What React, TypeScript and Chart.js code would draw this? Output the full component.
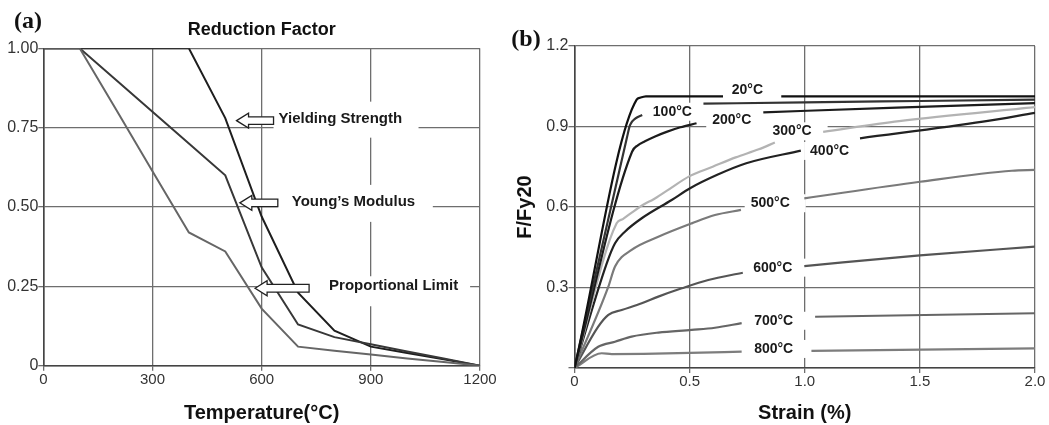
import React, { useEffect, useRef } from "react";
import { Chart, registerables } from "chart.js";

Chart.register(...registerables);

const FONT = '"Liberation Sans", Arial, Helvetica, sans-serif';
const SERIF = '"Liberation Serif", "DejaVu Serif", "Times New Roman", serif';

// ---------- Panel (a): reduction factors ----------
const temperatures = [0, 100, 200, 300, 400, 500, 600, 700, 800, 900, 1000, 1100, 1200];
const yieldingStrength = [1, 1, 1, 1, 1, 0.78, 0.47, 0.23, 0.11, 0.06, 0.04, 0.02, 0];
const youngsModulus = [1, 1, 0.9, 0.8, 0.7, 0.6, 0.31, 0.13, 0.09, 0.0675, 0.045, 0.0225, 0];
const proportionalLimit = [1, 1, 0.807, 0.613, 0.42, 0.36, 0.18, 0.06, 0.047, 0.035, 0.023, 0.012, 0];
const temperatureTicks = ["0", "300", "600", "900", "1200"];
const factorTicks = ["0", "0.25", "0.50", "0.75", "1.00"];
const annotationTexts = ["Yielding Strength", "Young\u2019s Modulus", "Proportional Limit"];
const annotationTemps = [531, 540, 582];
const annotationFactors = [0.772, 0.513, 0.244];

// ---------- Panel (b): stress-strain curves ----------
const strain20 = [0, 0.27, 0.285, 0.3, 0.31, 0.645, 0.77, 0.898, 2.0];
const ratio20 = [0, 1.0, 1.007, 1.011, 1.012, 1.012, null, 1.012, 1.012];
const strain100 = [0, 0.227, 0.241, 0.265, 0.294, 0.43, 0.56, 1.0, 1.5, 2.0];
const ratio100 = [0, 0.856, 0.905, 0.93, 0.943, null, 0.985, 0.99, 0.995, 1.0];
const strain200 = [0, 0.25, 0.275, 0.306, 0.35, 0.4, 0.46, 0.53, 0.68, 0.82, 1.4, 2.0];
const ratio200 = [0, 0.806, 0.83, 0.845, 0.863, 0.88, 0.897, 0.912, null, 0.953, 0.97, 0.987];
const strain300 = [0, 0.183, 0.21, 0.25, 0.306, 0.342, 0.4, 0.5, 0.6, 0.7, 0.8, 0.87, 0.97, 1.08, 1.41, 2.0];
const ratio300 = [0, 0.539, 0.555, 0.58, 0.612, 0.628, 0.66, 0.715, 0.75, 0.785, 0.815, 0.84, null, 0.88, 0.92, 0.972];
const strain400 = [0, 0.14, 0.176, 0.219, 0.292, 0.422, 0.502, 0.62, 0.746, 0.983, 1.1, 1.24, 1.774, 2.0];
const ratio400 = [0, 0.39, 0.465, 0.508, 0.558, 0.626, 0.67, 0.72, 0.763, 0.81, null, 0.856, 0.918, 0.951];
const strain500 = [0, 0.147, 0.176, 0.248, 0.364, 0.509, 0.61, 0.723, 0.86, 0.998, 1.5, 1.9, 2.0];
const ratio500 = [0, 0.303, 0.378, 0.44, 0.489, 0.539, 0.57, 0.589, null, 0.632, 0.694, 0.735, 0.738];
const strain600 = [0, 0.103, 0.147, 0.205, 0.292, 0.364, 0.466, 0.581, 0.731, 0.86, 0.998, 1.5, 2.0];
const ratio600 = [0, 0.154, 0.198, 0.216, 0.241, 0.266, 0.297, 0.328, 0.355, null, 0.38, 0.42, 0.452];
const strain700 = [0, 0.103, 0.176, 0.248, 0.364, 0.509, 0.61, 0.726, 0.88, 1.045, 2.0];
const ratio700 = [0, 0.079, 0.098, 0.117, 0.132, 0.142, 0.15, 0.167, null, 0.191, 0.204];
const strain800 = [0, 0.118, 0.162, 0.3, 0.5, 0.726, 0.88, 1.029, 2.0];
const ratio800 = [0, 0.055, 0.052, 0.053, 0.056, 0.061, null, 0.064, 0.073];
const strainTicks = ["0", "0.5", "1.0", "1.5", "2.0"];
const ratioTicks = ["", "0.3", "0.6", "0.9", "1.2"];
const curveLabels = ["20°C", "100°C", "200°C", "300°C", "400°C", "500°C", "600°C", "700°C", "800°C"];
const curveLabelStrain = [0.751, 0.425, 0.683, 0.945, 1.108, 0.85, 0.861, 0.865, 0.865];
const curveLabelRatio = [1.036, 0.955, 0.922, 0.882, 0.809, 0.614, 0.374, 0.176, 0.071];

const curveStrains = [strain20, strain100, strain200, strain300, strain400, strain500, strain600, strain700, strain800];
const curveRatios = [ratio20, ratio100, ratio200, ratio300, ratio400, ratio500, ratio600, ratio700, ratio800];
const curveColors = ["#111111", "#333333", "#1c1c1c", "#b3b3b3", "#222222", "#7a7a7a", "#555555", "#666666", "#7d7d7d"];

// annotation geometry (pixels relative to arrow tip)
const arrowLen = [37, 38, 54];
const textDx = [42, 52, 74];
const textDy = [-2, -1, -2];
const boxRight = [182, 193, 215];
const boxTop = [-19, -18, -12];
const boxBottom = [17, 19, 18];

const GRID = "#6e6e6e";

const panelAPlugin = {
  id: "panelA",
  beforeDatasetsDraw(chart: any) {
    const { ctx, scales } = chart;
    ctx.save();
    ctx.fillStyle = "#ffffff";
    annotationTexts.forEach((_, i) => {
      const tx = scales.x.getPixelForValue(annotationTemps[i]);
      const ty = scales.y.getPixelForValue(annotationFactors[i]);
      ctx.fillRect(tx + arrowLen[i], ty + boxTop[i], boxRight[i] - arrowLen[i], boxBottom[i] - boxTop[i]);
    });
    ctx.restore();
  },
  afterDatasetsDraw(chart: any) {
    const { ctx, scales, chartArea } = chart;
    ctx.save();
    annotationTexts.forEach((text, i) => {
      const tx = scales.x.getPixelForValue(annotationTemps[i]);
      const ty = scales.y.getPixelForValue(annotationFactors[i]);
      const L = arrowLen[i];
      const h = 12;
      ctx.beginPath();
      ctx.moveTo(tx, ty);
      ctx.lineTo(tx + h, ty - 7.5);
      ctx.lineTo(tx + h, ty - 3.8);
      ctx.lineTo(tx + L, ty - 3.8);
      ctx.lineTo(tx + L, ty + 3.8);
      ctx.lineTo(tx + h, ty + 3.8);
      ctx.lineTo(tx + h, ty + 7.5);
      ctx.closePath();
      ctx.fillStyle = "#ffffff";
      ctx.fill();
      ctx.lineWidth = 1.3;
      ctx.strokeStyle = "#222";
      ctx.stroke();
      ctx.fillStyle = "#1a1a1a";
      ctx.font = `bold 15px ${FONT}`;
      ctx.textAlign = "left";
      ctx.textBaseline = "middle";
      ctx.fillText(text, tx + textDx[i], ty + textDy[i]);
    });
    ctx.fillStyle = "#111";
    ctx.font = `bold 18px ${FONT}`;
    ctx.textAlign = "center";
    ctx.textBaseline = "middle";
    ctx.fillText("Reduction Factor", (chartArea.left + chartArea.right) / 2, chartArea.top - 18);
    ctx.font = `bold 24px ${SERIF}`;
    ctx.fillText("(a)", 28, 22);
    ctx.restore();
  },
};

const panelBPlugin = {
  id: "panelB",
  beforeDatasetsDraw(chart: any) {
    const { ctx, scales } = chart;
    ctx.save();
    ctx.font = `bold 14px ${FONT}`;
    ctx.fillStyle = "#ffffff";
    curveLabels.forEach((text, i) => {
      const cx = scales.x.getPixelForValue(curveLabelStrain[i]);
      const cy = scales.y.getPixelForValue(curveLabelRatio[i]);
      const w = ctx.measureText(text).width;
      ctx.fillRect(cx - w / 2 - 6, cy - 9, w + 22, 18);
    });
    ctx.restore();
  },
  afterDatasetsDraw(chart: any) {
    const { ctx, scales } = chart;
    ctx.save();
    ctx.font = `bold 14px ${FONT}`;
    ctx.fillStyle = "#1a1a1a";
    ctx.textAlign = "center";
    ctx.textBaseline = "middle";
    curveLabels.forEach((text, i) => {
      const cx = scales.x.getPixelForValue(curveLabelStrain[i]);
      const cy = scales.y.getPixelForValue(curveLabelRatio[i]);
      ctx.fillText(text, cx, cy);
    });
    ctx.fillStyle = "#111";
    ctx.font = `bold 24px ${SERIF}`;
    ctx.fillText("(b)", 26, 40);
    ctx.restore();
  },
};

function makeConfigA(): any {
  const mk = (vals: number[], color: string) => ({
    data: temperatures.map((t, i) => ({ x: t, y: vals[i] })),
    borderColor: color,
    borderWidth: 2,
    pointRadius: 0,
    tension: 0,
    fill: false,
  });
  return {
    type: "line",
    data: {
      datasets: [
        mk(proportionalLimit, "#666666"),
        mk(youngsModulus, "#383838"),
        mk(yieldingStrength, "#1e1e1e"),
      ],
    },
    options: {
      animation: false,
      responsive: false,
      devicePixelRatio: 1,
      layout: { padding: { top: 48.3, right: 40, bottom: 0, left: 0 } },
      plugins: { legend: { display: false }, tooltip: { enabled: false } },
      scales: {
        x: {
          type: "linear",
          min: 0,
          max: 1200,
          ticks: {
            stepSize: 300,
            autoSkip: false,
            maxRotation: 0,
            padding: 0,
            color: "#333",
            font: { size: 15, family: FONT },
            callback: (_v: any, i: number) => temperatureTicks[i],
          },
          grid: { color: GRID, lineWidth: 1.3, tickLength: 5 },
          border: { color: "#444", width: 1.6 },
          title: {
            display: true,
            text: "Temperature(°C)",
            color: "#111",
            font: { size: 20, weight: "bold", family: FONT },
            padding: { top: 3, bottom: 0 },
          },
          afterFit: (s: any) => {
            s.height = 59.3;
          },
        },
        y: {
          type: "linear",
          min: 0,
          max: 1,
          ticks: {
            stepSize: 0.25,
            padding: 0,
            color: "#333",
            font: { size: 16, family: FONT },
            callback: (_v: any, i: number) => factorTicks[i],
          },
          grid: { color: GRID, lineWidth: 1.3, tickLength: 5 },
          border: { color: "#444", width: 1.6 },
          afterFit: (s: any) => {
            s.width = 43.3;
          },
        },
      },
    },
    plugins: [panelAPlugin],
  };
}

function makeConfigB(): any {
  return {
    type: "line",
    data: {
      datasets: curveStrains.map((st, k) => ({
        data: st.map((s, i) => ({ x: s, y: curveRatios[k][i] })),
        borderColor: curveColors[k],
        borderWidth: 2.2,
        pointRadius: 0,
        cubicInterpolationMode: "monotone",
        spanGaps: false,
        fill: false,
      })),
    },
    options: {
      animation: false,
      responsive: false,
      devicePixelRatio: 1,
      layout: { padding: { top: 46, right: 14, bottom: 0, left: 0 } },
      plugins: { legend: { display: false }, tooltip: { enabled: false } },
      scales: {
        x: {
          type: "linear",
          min: 0,
          max: 2,
          ticks: {
            stepSize: 0.5,
            autoSkip: false,
            maxRotation: 0,
            padding: 0,
            color: "#333",
            font: { size: 15, family: FONT },
            callback: (_v: any, i: number) => strainTicks[i],
          },
          grid: { color: GRID, lineWidth: 1.3, tickLength: 5 },
          border: { color: "#444", width: 1.6 },
          title: {
            display: true,
            text: "Strain (%)",
            color: "#111",
            font: { size: 20, weight: "bold", family: FONT },
            padding: { top: 3, bottom: 0 },
          },
          afterFit: (s: any) => {
            s.height = 57;
          },
        },
        y: {
          type: "linear",
          min: 0,
          max: 1.2,
          ticks: {
            stepSize: 0.3,
            padding: 0,
            color: "#333",
            font: { size: 16, family: FONT },
            callback: (_v: any, i: number) => ratioTicks[i],
          },
          grid: { color: GRID, lineWidth: 1.3, tickLength: 6 },
          border: { color: "#444", width: 1.6 },
          title: {
            display: true,
            text: "F/Fy20",
            color: "#111",
            font: { size: 20, weight: "bold", family: FONT },
            padding: { top: 13, bottom: 0 },
          },
          afterFit: (s: any) => {
            s.width = 74.5;
          },
        },
      },
    },
    plugins: [panelBPlugin],
  };
}

export default function App() {
  const refA = useRef<HTMLCanvasElement>(null);
  const refB = useRef<HTMLCanvasElement>(null);
  useEffect(() => {
    const a = new Chart(refA.current as HTMLCanvasElement, makeConfigA());
    const b = new Chart(refB.current as HTMLCanvasElement, makeConfigB());
    return () => {
      a.destroy();
      b.destroy();
    };
  }, []);
  return (
    <div
      style={{
        position: "fixed",
        left: 0,
        top: 0,
        width: 1049,
        height: 425,
        background: "#ffffff",
        overflow: "hidden",
      }}
    >
      <canvas
        ref={refA}
        width={520}
        height={425}
        style={{ position: "absolute", left: 0, top: 0, width: 520, height: 425 }}
      />
      <canvas
        ref={refB}
        width={549}
        height={425}
        style={{ position: "absolute", left: 500, top: 0, width: 549, height: 425 }}
      />
    </div>
  );
}
